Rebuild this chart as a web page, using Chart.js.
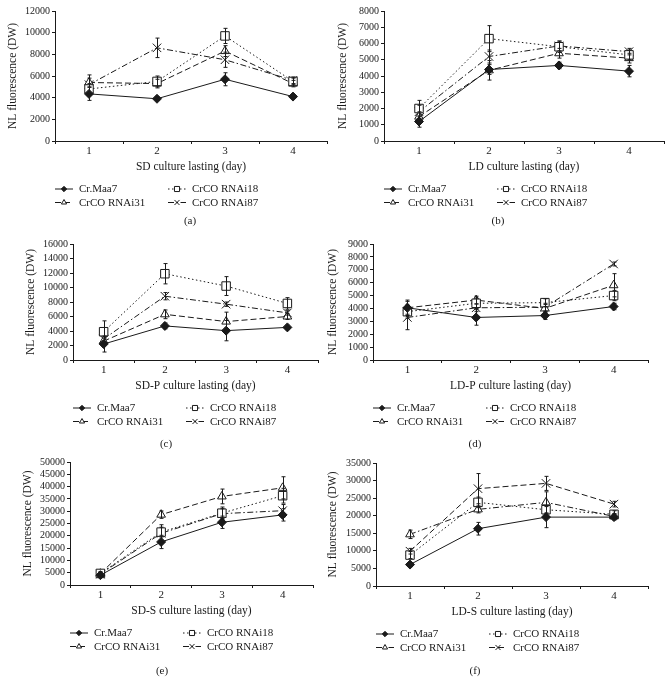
<!DOCTYPE html><html lang="en">
<head>
<meta charset="utf-8"/>
<title>NL fluorescence</title>
<script src="https://cdn.jsdelivr.net/npm/chart.js"></script>
<style>
  body{margin:0;background:#fff;width:671px;height:681px;position:relative;overflow:hidden;font-family:"Liberation Serif",serif}
  canvas{position:absolute}
  .tag{position:absolute;font-size:11px;transform:translate(-50%,-50%);color:#1a1a1a}
</style>
</head>
<body>
<script>
// ---- data ----
const days = ['1', '2', '3', '4'];
const names = ['Cr.Maa7', 'CrCO RNAi18', 'CrCO RNAi31', 'CrCO RNAi87'];

// rows: Cr.Maa7, RNAi18, RNAi31, RNAi87
const sdVals  = [[4350, 3900, 5700, 4100], [4800, 5500, 9700, 5500], [5400, 5300, 8300, 5300], [5200, 8600, 7500, 5600]];
const sdErrs  = [[600, 150, 600, 150], [500, 500, 700, 300], [400, 400, 500, 300], [900, 900, 700, 300]];
const ldVals  = [[1200, 4400, 4650, 4300], [2000, 6300, 5800, 5300], [1500, 4350, 5400, 5100], [1800, 5200, 5850, 5500]];
const ldErrs  = [[350, 300, 200, 350], [500, 800, 350, 300], [300, 600, 300, 300], [400, 400, 300, 200]];
const sdpVals = [[2200, 4700, 4050, 4500], [3900, 11900, 10200, 7800], [2600, 6300, 5300, 6000], [2900, 8800, 7700, 6500]];
const sdpErrs = [[1100, 400, 1400, 300], [1500, 1400, 1300, 800], [400, 600, 1300, 400], [300, 500, 300, 300]];
const ldpVals = [[4050, 3300, 3450, 4150], [3750, 4400, 4450, 5000], [4050, 4650, 4000, 5800], [3300, 4050, 4100, 7450]];
const ldpErrs = [[600, 600, 300, 250], [500, 400, 300, 400], [500, 300, 300, 900], [950, 300, 300, 150]];
const sdsVals = [[4000, 17500, 25500, 28500], [4700, 21500, 29200, 36300], [4600, 28600, 36000, 39500], [4400, 21000, 29000, 30200]];
const sdsErrs = [[500, 2700, 2500, 2500], [700, 2000, 2500, 3000], [600, 1500, 3000, 4500], [600, 3500, 2000, 2500]];
const ldsVals = [[6100, 16300, 19600, 19600], [8800, 23800, 21700, 20400], [14700, 21800, 23800, 19800], [9900, 27700, 29200, 23300]];
const ldsErrs = [[600, 1800, 3000, 800], [1000, 1500, 1200, 1000], [1200, 1000, 3000, 800], [800, 4300, 2000, 800]];

const xTitles = ['SD culture lasting (day)', 'LD culture lasting (day)', 'SD-P culture lasting (day)',
                 'LD-P culture lasting (day)', 'SD-S culture lasting (day)', 'LD-S culture lasting (day)'];
const yMax  = [12000, 8000, 16000, 9000, 50000, 35000];
const yStep = [2000, 1000, 2000, 1000, 5000, 5000];
const tags  = ['(a)', '(b)', '(c)', '(d)', '(e)', '(f)'];
const allVals = [sdVals, ldVals, sdpVals, ldpVals, sdsVals, ldsVals];
const allErrs = [sdErrs, ldErrs, sdpErrs, ldpErrs, sdsErrs, ldsErrs];

// ---- layout (canvas box, plot area, tag position) ----
const boxes = [
  {c: [6, 0, 329, 226],   a: [55, 11, 327, 141],   t: [190, 220]},
  {c: [336, 0, 335, 226], a: [384, 11, 664, 141],  t: [498, 220]},
  {c: [24, 226, 311, 222], a: [73, 244, 318, 360], t: [166, 443]},
  {c: [326, 226, 345, 222], a: [373, 244, 648, 360], t: [475, 443]},
  {c: [21, 448, 314, 226], a: [70, 462, 313, 585], t: [162, 670]},
  {c: [326, 448, 345, 226], a: [376, 463, 648, 586], t: [475, 670]}
];

const INK = '#1a1a1a';
const FONT = 'Liberation Serif';
const DASHED = [6, 3], DASHDOT = [6, 2.5, 1.5, 2.5];
const styles = [
  {ps: 'rectRot',  r: 4.5, bg: INK,    dash: []},
  {ps: 'rect',     r: 6,   bg: '#fff', dash: [1.5, 2.5]},
  {ps: 'triangle', r: 5,   bg: '#fff', dash: DASHED},
  {ps: 'crossRot', r: 6,   bg: '#fff', dash: DASHDOT}
];
// panel (f) swaps the dash styles of RNAi31 and RNAi87
const dashFor = (p, i) => (p === 5 && i === 2) ? DASHDOT : (p === 5 && i === 3) ? DASHED : styles[i].dash;
const XH = 33; // height of x scale box

// error bars through the y scale
const errBars = {
  id: 'errBars',
  afterDatasetsDraw(chart) {
    const ctx = chart.ctx, y = chart.scales.y;
    ctx.save();
    ctx.strokeStyle = INK; ctx.lineWidth = 1; ctx.setLineDash([]);
    chart.data.datasets.forEach((ds, i) => {
      chart.getDatasetMeta(i).data.forEach((pt, j) => {
        const v = ds.data[j], e = ds.errors[j];
        const t = y.getPixelForValue(v + e), b = y.getPixelForValue(v - e);
        const x = Math.round(pt.x) + 0.5;
        ctx.beginPath();
        ctx.moveTo(x, t); ctx.lineTo(x, b);
        ctx.moveTo(x - 2, t); ctx.lineTo(x + 2, t);
        ctx.moveTo(x - 2, b); ctx.lineTo(x + 2, b);
        ctx.stroke();
      });
    });
    ctx.restore();
  }
};

// 2x2 legend under the x title
const legend2 = {
  id: 'legend2',
  afterDraw(chart) {
    const ctx = chart.ctx, a = chart.chartArea;
    ctx.save();
    chart.data.datasets.forEach((ds, i) => {
      const x0 = a.left + (i % 2) * 113, y0 = a.bottom + 48 + Math.floor(i / 2) * 13.5;
      ctx.strokeStyle = INK; ctx.lineWidth = 1;
      ctx.setLineDash(ds.borderDash);
      ctx.beginPath(); ctx.moveTo(x0, y0); ctx.lineTo(x0 + 18, y0); ctx.stroke();
      ctx.setLineDash([]);
      ctx.fillStyle = ds.pointBackgroundColor;
      Chart.helpers.drawPoint(ctx, {pointStyle: ds.pointStyle, radius: ds.pointRadius * 0.6, borderWidth: 1, rotation: 0}, x0 + 9, y0);
      ctx.fillStyle = INK;
      ctx.font = '11px "' + FONT + '"';
      ctx.textBaseline = 'middle';
      ctx.fillText(ds.label, x0 + 24, y0 + 0.5);
    });
    ctx.restore();
  }
};

boxes.forEach((bx, p) => {
  const [cx, cy, cw, ch] = bx.c, [l, t, r, b] = bx.a;
  const cv = document.createElement('canvas');
  cv.width = cw; cv.height = ch;
  cv.style.left = cx + 'px'; cv.style.top = cy + 'px';
  document.body.appendChild(cv);

  const tag = document.createElement('div');
  tag.className = 'tag'; tag.textContent = tags[p];
  tag.style.left = bx.t[0] + 'px'; tag.style.top = bx.t[1] + 'px';
  document.body.appendChild(tag);

  new Chart(cv, {
    type: 'line',
    data: {
      labels: days,
      datasets: names.map((n, i) => ({
        label: n,
        data: allVals[p][i],
        errors: allErrs[p][i],
        borderColor: INK, borderWidth: 1, borderDash: dashFor(p, i),
        pointStyle: styles[i].ps, pointRadius: styles[i].r,
        pointBackgroundColor: styles[i].bg, pointBorderColor: INK, pointBorderWidth: 1,
        tension: 0, fill: false
      }))
    },
    options: {
      responsive: false, animation: false,
      layout: {padding: {left: 0, top: t - cy, right: cx + cw - r, bottom: cy + ch - b - XH}},
      plugins: {legend: {display: false}, tooltip: {enabled: false}},
      scales: {
        x: {
          offset: true,
          grid: {offset: true, drawOnChartArea: false, tickLength: 3, color: INK},
          border: {color: INK},
          ticks: {color: INK, padding: 1, font: {family: FONT, size: 11}},
          title: {display: true, text: xTitles[p], color: INK, padding: 0, font: {family: FONT, size: 11.5, weight: 'normal'}},
          afterFit: s => { s.height = XH; }
        },
        y: {
          min: 0, max: yMax[p],
          grid: {drawOnChartArea: false, tickLength: 3, color: INK},
          border: {color: INK},
          ticks: {stepSize: yStep[p], autoSkip: false, color: INK, padding: 2,
                  font: {family: FONT, size: 10}, callback: v => String(v)},
          title: {display: true, text: 'NL fluorescence (DW)', color: INK, padding: 0, font: {family: FONT, size: 11.5, weight: 'normal'}},
          afterFit: s => { s.width = l - cx; }
        }
      }
    },
    plugins: [errBars, legend2]
  });
});
</script>
</body>
</html>
